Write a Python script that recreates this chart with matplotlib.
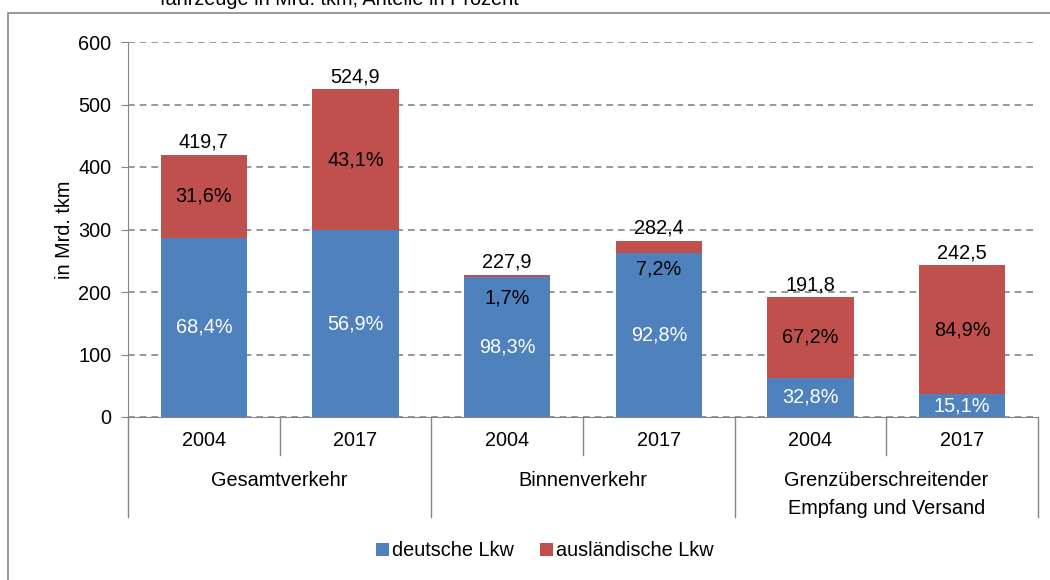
import numpy as np
import matplotlib.pyplot as plt
from matplotlib.patches import Rectangle

plt.rcParams['font.family'] = ['Liberation Sans', 'DejaVu Sans']

# Daten
groups = ['Gesamtverkehr', 'Binnenverkehr', 'Grenzüberschreitender\nEmpfang und Versand']
years = ['2004', '2017', '2004', '2017', '2004', '2017']
totals = [419.7, 524.9, 227.9, 282.4, 191.8, 242.5]
pct_de = [68.4, 56.9, 98.3, 92.8, 32.8, 15.1]
pct_aus = [31.6, 43.1, 1.7, 7.2, 67.2, 84.9]
yticks = [0, 100, 200, 300, 400, 500, 600]

blau = '#4F81BD'
rot = '#C0504D'
grau = '#868686'


def fmt(v, suffix=''):
    return ('%.1f' % v).replace('.', ',') + suffix


totals = np.array(totals)
deutsch = totals * np.array(pct_de) / 100
ausl = totals - deutsch
x = np.arange(len(totals))

fig = plt.figure(figsize=(10.5, 5.8), dpi=100)
ax = fig.add_axes([128 / 1050, 1 - 417 / 580, 910 / 1050, 375 / 580])

w = 0.57
ax.bar(x, deutsch, w, color=blau, label='deutsche Lkw', zorder=3)
ax.bar(x, ausl, w, bottom=deutsch, color=rot, label='ausländische Lkw', zorder=3)

fs = 14.3
for i in range(len(x)):
    # Gesamtwert
    ax.annotate(fmt(totals[i]), (x[i], totals[i]), xytext=(0, 2), textcoords='offset points',
                ha='center', va='bottom', fontsize=fs)
    # Anteil deutsch
    ax.text(x[i], deutsch[i] / 2, fmt(pct_de[i], '%'), ha='center', va='center',
            color='white', fontsize=fs, zorder=4)
    # Anteil ausländisch
    if ausl[i] > 40:
        ya = deutsch[i] + ausl[i] / 2
    else:
        ya = deutsch[i] + ausl[i] / 2 - 35
    ax.text(x[i], ya, fmt(pct_aus[i], '%'), ha='center', va='center',
            color='black', fontsize=fs, zorder=4)

ax.set_xlim(-0.5, len(x) - 0.5)
ax.set_ylim(0, 600)
ax.set_yticks(yticks)
ax.yaxis.grid(True, color=grau, linestyle=(0, (4, 3)), linewidth=1.2, zorder=0)
ax.set_axisbelow(True)
ax.set_xticks([])
ax.tick_params(axis='y', length=5, color=grau, labelsize=fs, pad=7)
for s in ['top', 'right']:
    ax.spines[s].set_visible(False)
for s in ['left', 'bottom']:
    ax.spines[s].set_color(grau)
ax.set_ylabel('in Mrd. tkm', fontsize=fs, labelpad=3)

# Kategorienachse
tr = ax.get_xaxis_transform()
for i, yr in enumerate(years):
    ax.text(x[i], -0.064, yr, transform=tr, ha='center', va='center', fontsize=fs)
for g, name in enumerate(groups):
    ax.text(2 * g + 0.5, -0.145, name, transform=tr, ha='center', va='top',
            fontsize=fs, linespacing=1.55)
for xs in [0.5, 2.5, 4.5]:
    ax.plot([xs, xs], [0, -0.101], transform=tr, color=grau, lw=1, clip_on=False)
for xs in [-0.5, 1.5, 3.5, 5.5]:
    ax.plot([xs, xs], [0, -0.267], transform=tr, color=grau, lw=1, clip_on=False)

leg = fig.legend(loc='center', bbox_to_anchor=(545 / 1050, 1 - 551 / 580), ncol=2,
                 frameon=False, fontsize=fs, handlelength=0.65, handleheight=0.65,
                 handletextpad=0.15, columnspacing=1.3)

# Rahmen und abgeschnittener Titel
fig.add_artist(Rectangle((8 / 1050, -0.1), 1.2, 1 - 13 / 580 + 0.1, transform=fig.transFigure,
                         fill=False, edgecolor=grau, lw=1.2))
fig.text(160 / 1050, 1 - 5 / 580, 'fahrzeuge in Mrd. tkm, Anteile in Prozent',
         fontsize=fs, va='baseline', ha='left')

fig.savefig('out.png', dpi=100)
